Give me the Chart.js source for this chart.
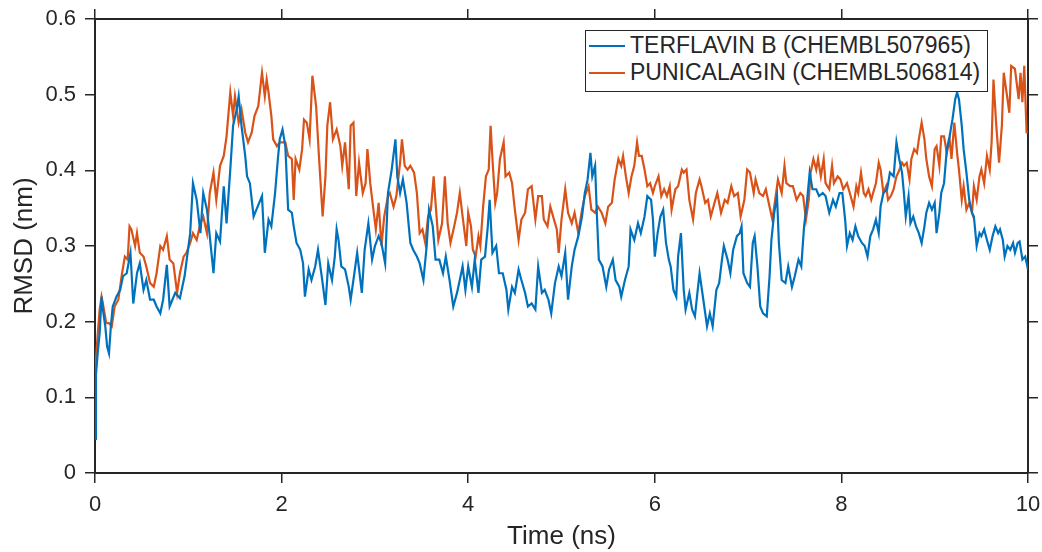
<!DOCTYPE html>
<html>
<head>
<meta charset="utf-8">
<script src="https://cdn.jsdelivr.net/npm/chart.js@4.4.1/dist/chart.umd.min.js"></script>
<style>
  body { margin:0; background:#fff; }
  #wrap { position:relative; width:1042px; height:552px; }
  #legend { position:absolute; left:585px; top:30px; width:401px; height:59px; border:1.5px solid #262626; background:#fff; padding-top:1px;
    font-family:"Liberation Sans", Arial, sans-serif; font-size:23px; color:#262626; }
  #legend .row { height:27px; line-height:27px; white-space:nowrap; }
  #legend .swatch { display:inline-block; width:36px; height:2px; margin:0 5px 0 3px; vertical-align:middle; position:relative; top:-1px; }
</style>
</head>
<body>
<div id="wrap">
  <canvas id="rmsdChart"></canvas>
  <div id="legend"></div>
</div>
<script>
const seriesNames = ['TERFLAVIN B (CHEMBL507965)', 'PUNICALAGIN (CHEMBL506814)'];
const seriesColors = ['#0072BD', '#D95319'];

const terflavinTime = [0,0.01,0.03,0.05,0.07,0.09,0.11,0.13,0.15,0.17,0.19,0.23,0.27,0.30,0.34,0.38,0.41,0.45,0.48,0.52,0.55,0.59,0.63,0.66,0.70,0.73,0.77,0.80,0.86,0.91,0.96,1.02,1.05,1.09,1.13,1.16,1.20,1.23,1.27,1.30,1.34,1.38,1.41,1.45,1.48,1.52,1.54,1.57,1.61,1.63,1.66,1.70,1.73,1.79,1.82,1.86,1.89,1.93,1.96,1.98,2.01,2.04,2.07,2.11,2.13,2.16,2.20,2.23,2.25,2.29,2.32,2.36,2.39,2.43,2.47,2.50,2.54,2.57,2.59,2.61,2.64,2.68,2.72,2.74,2.78,2.81,2.86,2.89,2.93,2.97,3.00,3.04,3.07,3.11,3.14,3.18,3.22,3.24,3.27,3.30,3.34,3.38,3.41,3.45,3.48,3.52,3.555,3.58,3.62,3.65,3.69,3.73,3.76,3.80,3.84,3.88,3.91,3.94,3.97,4.00,4.04,4.07,4.11,4.14,4.18,4.21,4.23,4.26,4.30,4.33,4.37,4.41,4.43,4.47,4.50,4.54,4.57,4.61,4.64,4.68,4.72,4.75,4.79,4.82,4.86,4.89,4.93,4.97,5.00,5.04,5.07,5.11,5.14,5.18,5.22,5.25,5.28,5.31,5.33,5.36,5.38,5.40,5.44,5.48,5.51,5.55,5.58,5.62,5.64,5.68,5.72,5.74,5.78,5.82,5.85,5.89,5.92,5.96,5.98,6.00,6.03,6.06,6.09,6.12,6.15,6.17,6.20,6.23,6.25,6.28,6.31,6.33,6.37,6.40,6.43,6.46,6.48,6.52,6.56,6.59,6.62,6.66,6.69,6.72,6.74,6.78,6.81,6.84,6.88,6.91,6.93,6.95,6.99,7.02,7.05,7.07,7.10,7.13,7.16,7.20,7.23,7.25,7.28,7.31,7.33,7.36,7.40,7.43,7.47,7.50,7.54,7.57,7.60,7.63,7.66,7.69,7.73,7.76,7.80,7.83,7.87,7.91,7.94,7.98,8.01,8.04,8.06,8.09,8.12,8.15,8.18,8.22,8.25,8.28,8.31,8.34,8.37,8.40,8.42,8.45,8.49,8.52,8.56,8.59,8.62,8.65,8.67,8.69,8.72,8.74,8.77,8.80,8.83,8.86,8.89,8.91,8.94,8.97,9.00,9.02,9.05,9.07,9.10,9.13,9.16,9.19,9.22,9.24,9.26,9.29,9.31,9.34,9.37,9.40,9.42,9.45,9.48,9.50,9.53,9.56,9.59,9.62,9.65,9.68,9.70,9.73,9.75,9.78,9.81,9.84,9.86,9.89,9.91,9.94,9.97,10.0];
const terflavinRmsd = [0.045,0.13,0.16,0.185,0.233,0.211,0.194,0.167,0.158,0.194,0.22,0.233,0.242,0.26,0.264,0.291,0.224,0.264,0.277,0.242,0.255,0.229,0.229,0.22,0.211,0.229,0.275,0.22,0.238,0.231,0.26,0.317,0.383,0.361,0.317,0.37,0.348,0.313,0.264,0.317,0.306,0.379,0.33,0.401,0.459,0.481,0.498,0.459,0.419,0.392,0.383,0.339,0.348,0.366,0.291,0.335,0.326,0.37,0.415,0.441,0.454,0.432,0.348,0.344,0.326,0.304,0.295,0.277,0.233,0.269,0.255,0.273,0.295,0.26,0.222,0.277,0.255,0.286,0.322,0.308,0.273,0.269,0.246,0.229,0.264,0.291,0.238,0.295,0.33,0.282,0.3,0.313,0.304,0.277,0.37,0.401,0.441,0.392,0.37,0.388,0.357,0.304,0.295,0.286,0.277,0.255,0.3,0.348,0.326,0.282,0.282,0.264,0.286,0.255,0.22,0.238,0.255,0.273,0.242,0.273,0.246,0.282,0.238,0.282,0.286,0.326,0.361,0.291,0.3,0.264,0.264,0.242,0.216,0.246,0.238,0.269,0.255,0.238,0.22,0.224,0.216,0.273,0.238,0.242,0.229,0.211,0.251,0.273,0.26,0.291,0.229,0.273,0.295,0.313,0.339,0.37,0.388,0.423,0.392,0.406,0.339,0.282,0.273,0.246,0.269,0.282,0.255,0.246,0.233,0.255,0.273,0.322,0.308,0.33,0.317,0.339,0.366,0.361,0.335,0.286,0.317,0.339,0.348,0.304,0.282,0.273,0.242,0.233,0.286,0.317,0.242,0.216,0.238,0.216,0.207,0.242,0.264,0.229,0.194,0.211,0.194,0.242,0.251,0.282,0.3,0.282,0.264,0.295,0.313,0.317,0.326,0.264,0.251,0.246,0.304,0.313,0.273,0.22,0.211,0.207,0.26,0.308,0.344,0.366,0.304,0.255,0.251,0.273,0.246,0.26,0.282,0.273,0.326,0.357,0.397,0.375,0.375,0.366,0.37,0.366,0.344,0.361,0.352,0.37,0.37,0.335,0.3,0.317,0.308,0.326,0.313,0.304,0.3,0.286,0.313,0.322,0.335,0.317,0.352,0.37,0.375,0.397,0.392,0.437,0.415,0.397,0.37,0.339,0.366,0.33,0.339,0.326,0.317,0.304,0.326,0.344,0.357,0.348,0.357,0.317,0.344,0.37,0.383,0.428,0.445,0.467,0.494,0.503,0.494,0.459,0.428,0.397,0.361,0.344,0.339,0.3,0.317,0.313,0.322,0.308,0.295,0.313,0.326,0.317,0.322,0.308,0.286,0.3,0.295,0.304,0.291,0.304,0.306,0.282,0.286,0.269];

const punicalaginTime = [0,0.01,0.03,0.05,0.07,0.09,0.12,0.15,0.18,0.21,0.25,0.29,0.32,0.35,0.37,0.39,0.43,0.45,0.48,0.52,0.55,0.59,0.63,0.66,0.70,0.73,0.77,0.80,0.84,0.88,0.91,0.95,0.98,1.02,1.05,1.09,1.13,1.16,1.20,1.23,1.27,1.30,1.34,1.38,1.41,1.45,1.48,1.50,1.54,1.57,1.61,1.64,1.68,1.71,1.75,1.79,1.82,1.84,1.86,1.89,1.91,1.95,1.98,2.04,2.07,2.11,2.13,2.15,2.19,2.22,2.24,2.27,2.30,2.33,2.37,2.40,2.44,2.47,2.49,2.52,2.55,2.59,2.63,2.65,2.68,2.72,2.74,2.77,2.80,2.83,2.87,2.90,2.92,2.95,2.98,3.01,3.04,3.07,3.10,3.14,3.16,3.20,3.23,3.27,3.29,3.32,3.35,3.38,3.42,3.45,3.48,3.51,3.54,3.57,3.60,3.63,3.65,3.68,3.72,3.75,3.78,3.81,3.85,3.88,3.91,3.94,3.98,4.00,4.03,4.05,4.08,4.11,4.13,4.16,4.19,4.22,4.24,4.26,4.29,4.31,4.34,4.38,4.40,4.44,4.47,4.50,4.54,4.57,4.61,4.64,4.68,4.72,4.75,4.79,4.81,4.85,4.88,4.91,4.95,4.97,5.00,5.04,5.07,5.11,5.14,5.18,5.22,5.25,5.29,5.32,5.36,5.39,5.43,5.47,5.50,5.54,5.57,5.61,5.64,5.66,5.69,5.72,5.75,5.78,5.81,5.83,5.86,5.89,5.92,5.95,5.98,6.00,6.04,6.07,6.10,6.13,6.16,6.18,6.22,6.25,6.29,6.31,6.34,6.37,6.41,6.44,6.48,6.50,6.54,6.57,6.60,6.64,6.67,6.71,6.75,6.78,6.82,6.85,6.89,6.92,6.96,6.99,7.02,7.06,7.08,7.12,7.16,7.19,7.23,7.26,7.29,7.32,7.36,7.39,7.41,7.45,7.48,7.52,7.56,7.59,7.62,7.65,7.67,7.70,7.73,7.75,7.78,7.81,7.83,7.87,7.90,7.92,7.96,7.99,8.02,8.06,8.09,8.13,8.16,8.18,8.21,8.24,8.26,8.29,8.32,8.34,8.37,8.40,8.42,8.45,8.48,8.50,8.53,8.56,8.59,8.61,8.65,8.67,8.70,8.73,8.75,8.78,8.81,8.83,8.86,8.89,8.91,8.94,8.97,9.00,9.02,9.05,9.07,9.10,9.13,9.16,9.18,9.21,9.24,9.26,9.29,9.31,9.34,9.37,9.40,9.42,9.45,9.48,9.50,9.53,9.56,9.59,9.61,9.63,9.66,9.69,9.72,9.74,9.77,9.80,9.82,9.86,9.90,9.92,9.94,9.96,9.985,10.0];
const punicalaginRmsd = [0.07,0.15,0.185,0.216,0.233,0.22,0.198,0.198,0.194,0.22,0.229,0.264,0.286,0.282,0.326,0.322,0.3,0.317,0.291,0.286,0.273,0.251,0.246,0.264,0.3,0.295,0.313,0.282,0.277,0.238,0.264,0.286,0.291,0.304,0.317,0.308,0.33,0.339,0.317,0.37,0.397,0.361,0.406,0.419,0.445,0.503,0.472,0.498,0.463,0.481,0.45,0.437,0.45,0.472,0.485,0.529,0.498,0.52,0.503,0.472,0.441,0.432,0.437,0.437,0.419,0.415,0.361,0.415,0.401,0.428,0.467,0.463,0.441,0.525,0.485,0.419,0.339,0.392,0.459,0.49,0.441,0.454,0.432,0.406,0.437,0.375,0.459,0.463,0.366,0.41,0.37,0.383,0.428,0.383,0.352,0.322,0.357,0.3,0.339,0.366,0.37,0.352,0.366,0.41,0.441,0.406,0.401,0.406,0.397,0.37,0.317,0.322,0.304,0.339,0.348,0.392,0.357,0.308,0.33,0.392,0.33,0.304,0.326,0.344,0.37,0.339,0.3,0.344,0.326,0.295,0.286,0.313,0.3,0.352,0.392,0.401,0.459,0.415,0.357,0.37,0.415,0.437,0.392,0.397,0.383,0.348,0.308,0.335,0.344,0.375,0.379,0.335,0.366,0.366,0.335,0.326,0.352,0.339,0.322,0.291,0.335,0.375,0.344,0.33,0.344,0.317,0.348,0.366,0.379,0.348,0.344,0.352,0.344,0.33,0.352,0.357,0.388,0.415,0.406,0.419,0.392,0.37,0.392,0.406,0.437,0.419,0.419,0.401,0.379,0.383,0.37,0.379,0.392,0.366,0.375,0.366,0.379,0.348,0.375,0.379,0.401,0.397,0.401,0.361,0.335,0.37,0.388,0.379,0.357,0.361,0.339,0.357,0.37,0.344,0.361,0.357,0.379,0.366,0.37,0.339,0.361,0.401,0.397,0.37,0.388,0.37,0.366,0.375,0.352,0.335,0.361,0.388,0.37,0.406,0.383,0.379,0.379,0.361,0.37,0.366,0.335,0.361,0.397,0.415,0.401,0.415,0.392,0.415,0.383,0.375,0.406,0.383,0.392,0.388,0.375,0.383,0.37,0.352,0.379,0.37,0.397,0.37,0.366,0.375,0.361,0.37,0.383,0.41,0.401,0.37,0.379,0.361,0.366,0.375,0.392,0.397,0.41,0.406,0.41,0.388,0.415,0.428,0.423,0.441,0.463,0.441,0.415,0.392,0.379,0.428,0.432,0.406,0.445,0.445,0.423,0.441,0.415,0.463,0.423,0.401,0.361,0.379,0.348,0.357,0.344,0.379,0.361,0.392,0.401,0.383,0.419,0.401,0.437,0.52,0.459,0.41,0.459,0.529,0.503,0.476,0.538,0.534,0.494,0.529,0.49,0.538,0.45,0.45];

const xTickStep = 2;
const yTickStep = 0.1;

const axisColor = '#262626';
const fontFamily = '"Liberation Sans", Arial, sans-serif';

function toPoints(t, v) { return t.map((x, i) => ({ x, y: v[i] })); }

const gridOpts = { drawOnChartArea:false, drawTicks:true, tickLength:10, color:axisColor, lineWidth:1.5 };
const borderOpts = { display:true, color:axisColor, width:2 };

// keep the axis boxes at fixed sizes (no extra room for overhanging labels)
function fixH(h) { return s => { s.height = h; s.paddingLeft = 0; s.paddingRight = 0; }; }
function fixW(w) { return s => { s.width = w; s.paddingTop = 0; s.paddingBottom = 0; }; }

const ctx = document.getElementById('rmsdChart').getContext('2d');
const chart = new Chart(ctx, {
  type: 'line',
  data: {
    datasets: [
      { label: seriesNames[0], data: toPoints(terflavinTime, terflavinRmsd), borderColor: seriesColors[0], borderWidth: 2.2, pointRadius: 0, tension: 0, fill: false },
      { label: seriesNames[1], data: toPoints(punicalaginTime, punicalaginRmsd), borderColor: seriesColors[1], borderWidth: 2.2, pointRadius: 0, tension: 0, fill: false }
    ]
  },
  options: {
    responsive: true,
    maintainAspectRatio: false,
    animation: false,
    layout: { padding: 0 },
    plugins: { legend: { display: false }, tooltip: { enabled: false } },
    scales: {
      x: {
        type: 'linear', position: 'bottom', min: 0, max: 10,
        ticks: { stepSize: xTickStep, color: axisColor, padding: 9, maxRotation: 0, font: { family: fontFamily, size: 22 } },
        grid: gridOpts, border: borderOpts,
        title: { display: true, text: 'Time (ns)', color: axisColor, padding: 0, font: { family: fontFamily, size: 26 } },
        afterFit: fixH(79)
      },
      x2: {
        type: 'linear', position: 'top', min: 0, max: 10,
        ticks: { stepSize: xTickStep, display: false },
        grid: gridOpts, border: borderOpts,
        afterFit: fixH(19)
      },
      y: {
        type: 'linear', position: 'left', min: 0, max: 0.6,
        ticks: { stepSize: yTickStep, color: axisColor, padding: 9, font: { family: fontFamily, size: 22 },
          callback: v => v === 0 ? '0' : v.toFixed(1) },
        grid: gridOpts, border: borderOpts,
        title: { display: true, text: 'RMSD (nm)', color: axisColor, padding: { top: 9 }, font: { family: fontFamily, size: 26 } },
        afterFit: fixW(95)
      },
      y2: {
        type: 'linear', position: 'right', min: 0, max: 0.6,
        ticks: { stepSize: yTickStep, display: false },
        grid: gridOpts, border: borderOpts,
        afterFit: fixW(14)
      }
    }
  }
});

// legend box inside the axes, MATLAB style
const legendEl = document.getElementById('legend');
chart.data.datasets.forEach(ds => {
  const row = document.createElement('div');
  row.className = 'row';
  const sw = document.createElement('span');
  sw.className = 'swatch';
  sw.style.background = ds.borderColor;
  row.appendChild(sw);
  row.appendChild(document.createTextNode(ds.label));
  legendEl.appendChild(row);
});
</script>
</body>
</html>
